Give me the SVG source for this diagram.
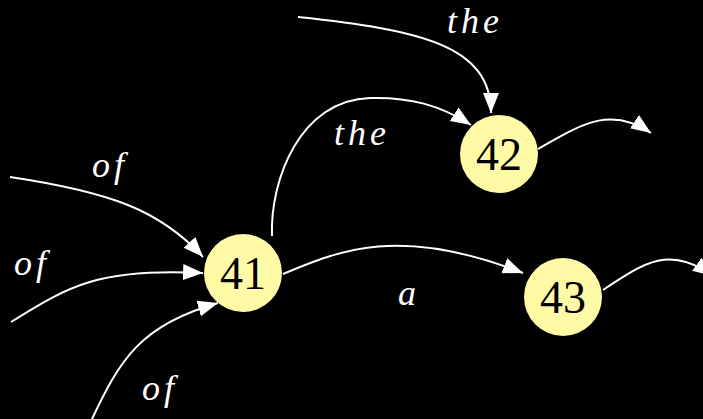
<svg xmlns="http://www.w3.org/2000/svg" width="703" height="419" viewBox="0 0 703 419">
<style>
.e{fill:none;stroke:#fff;stroke-width:2;marker-end:url(#ah)}
.n{fill:#fffaa6;stroke:none}
.t{font-family:"Liberation Serif","Times New Roman",serif;font-size:46px;fill:#000;text-anchor:middle}
.l{font-family:"Liberation Serif","Times New Roman",serif;font-style:italic;font-size:36px;fill:#fff;letter-spacing:4px}
</style>
<defs>
<marker id="ah" markerUnits="userSpaceOnUse" markerWidth="22" markerHeight="18" refX="20" refY="8" orient="auto" viewBox="0 0 22 18">
<path d="M0,0 L20,8 L0,16 z" fill="#fff"/>
</marker>
</defs>
<rect width="703" height="419" fill="#000"/>
<g id="edges">
<path class="e" d="M10,177 C110,192 160,210 203,257"/>
<path class="e" d="M11,322 C70,285 100,268 203,273"/>
<path class="e" d="M92,419 C120,360 140,325 218,303"/>
<path class="e" d="M272,236 C270,180 300,100 370,98 C410,97 440,105 471,125"/>
<path class="e" d="M298,17 C420,30 491,45 491,113"/>
<path class="e" d="M538,149 C580,125 610,105 651,133"/>
<path class="e" d="M283,274 C340,250 400,225 523,273"/>
<path class="e" d="M603,290 C645,262 670,245 713,276"/>
</g>
<g id="labels">
<text class="l" x="92" y="177">of</text>
<text class="l" x="14" y="275">of</text>
<text class="l" x="142" y="400">of</text>
<text class="l" x="447" y="33">the</text>
<text class="l" x="334" y="145">the</text>
<text class="l" x="398" y="305">a</text>
</g>
<g id="n41"><circle class="n" cx="243" cy="273" r="39"/><text class="t" x="243" y="289">41</text></g>
<g id="n42"><circle class="n" cx="499" cy="154" r="39"/><text class="t" x="499" y="170">42</text></g>
<g id="n43"><circle class="n" cx="563" cy="297" r="39"/><text class="t" x="563" y="313">43</text></g>
</svg>
